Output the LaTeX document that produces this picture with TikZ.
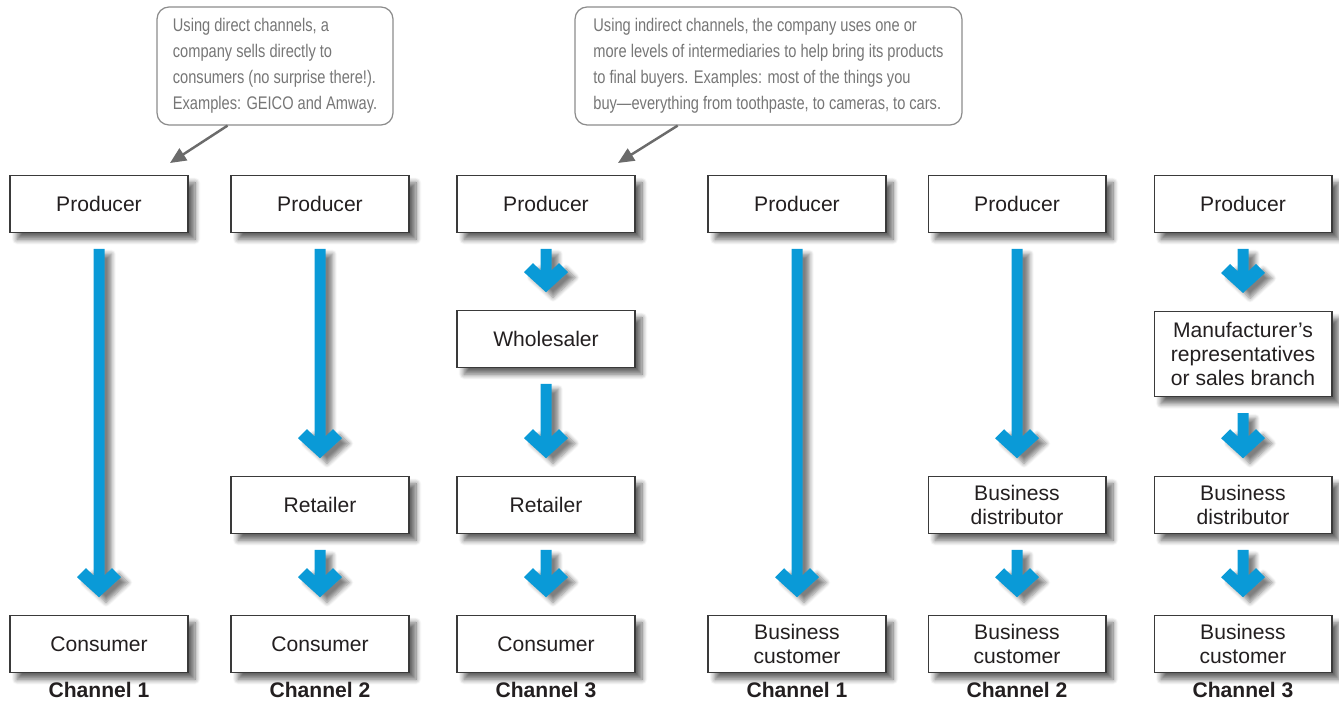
\documentclass[tikz,border=0pt]{standalone}
\usepackage{fontspec}
\setmainfont{Liberation Sans}
\newfontfamily\notefont[FakeStretch=0.80, Ligatures=TeX]{Liberation Sans}
\usepackage{tikz}
\usetikzlibrary{arrows.meta, positioning, calc, shadows, shadows.blur}
\definecolor{flowBlue}{HTML}{0A9AD7}
\definecolor{boxLine}{HTML}{3A3A3A}
\definecolor{boxText}{HTML}{231F20}
\definecolor{noteLine}{HTML}{8C8C8C}
\definecolor{noteText}{HTML}{767676}
\definecolor{pointerGray}{HTML}{6B6B6B}

% blue chevron arrow from one box to the next
\newcommand{\flowarrow}[2]{%
  \fill[flow] let \p1=(#1.south), \p2=(#2.north) in
    (\x1-0.11cm,\y1-0.32cm) -- (\x1-0.11cm,\y2+0.80cm) -- (\x1-0.26cm,\y2+0.94cm)
    -- (\x1-0.44cm,\y2+0.76cm) -- (\x1,\y2+0.36cm) -- (\x1+0.44cm,\y2+0.76cm)
    -- (\x1+0.26cm,\y2+0.94cm) -- (\x1+0.11cm,\y2+0.80cm) -- (\x1+0.11cm,\y1-0.32cm) -- cycle;}

\begin{document}
\begin{tikzpicture}[x=0.02cm, y=-0.02cm,
  stage/.style={draw=boxLine, fill=white, line width=0.6pt, minimum width=3.56cm, minimum height=1.13cm, align=center, text=boxText, font=\fontsize{12}{13.7}\selectfont, blur shadow={shadow xshift=4pt, shadow yshift=-4pt, shadow blur steps=8, shadow blur radius=3pt, shadow opacity=60}},
  flow/.style={fill=flowBlue, blur shadow={shadow xshift=4pt, shadow yshift=-3pt, shadow blur steps=6, shadow blur radius=2.5pt, shadow opacity=50}},
  chan/.style={font=\fontsize{12}{14}\selectfont\bfseries, text=boxText, inner sep=0pt},
  note/.style={draw=noteLine, fill=white, line width=0.7pt, rounded corners=0.24cm, minimum height=2.36cm, align=left, text=noteText, font=\notefont\fontsize{10.4}{14.8}\selectfont},
  pointer/.style={draw=pointerGray, line width=1.4pt, -{Triangle[length=0.32cm, width=0.28cm]}},
]
  \useasboundingbox (0,0) rectangle (1339,702);

  % Callouts
  \node[note, minimum width=4.72cm] (noteDirect) at (275,66)
    {Using direct channels, a\\company sells directly to\\consumers (no surprise there!).\\Examples: GEICO and Amway.};
  \node[note, minimum width=7.74cm] (noteIndirect) at (768.5,66)
    {Using indirect channels, the company uses one or\\more levels of intermediaries to help bring its products\\to final buyers. Examples: most of the things you\\buy—everything from toothpaste, to cameras, to cars.};
  \coordinate (tipDirect) at (170,163);
  \coordinate (tipIndirect) at (618,163);

  % Row 1
  \node[stage] (prodA) at (99,204)   {Producer};
  \node[stage] (prodB) at (320,204)  {Producer};
  \node[stage] (prodC) at (546,204)  {Producer};
  \node[stage] (prodD) at (797,204)  {Producer};
  \node[stage] (prodE) at (1017,204) {Producer};
  \node[stage] (prodF) at (1243,204) {Producer};

  % Row 2
  \node[stage] (whole) at (546,339) {Wholesaler};
  \node[stage, minimum height=1.7cm] (rep) at (1243,354) {Manufacturer’s\\representatives\\or sales branch};

  % Row 3
  \node[stage] (retB) at (320,505)  {Retailer};
  \node[stage] (retC) at (546,505)  {Retailer};
  \node[stage] (distE) at (1017,505) {Business\\distributor};
  \node[stage] (distF) at (1243,505) {Business\\distributor};

  % Row 4
  \node[stage] (consA) at (99,644)   {Consumer};
  \node[stage] (consB) at (320,644)  {Consumer};
  \node[stage] (consC) at (546,644)  {Consumer};
  \node[stage] (custD) at (797,644)  {Business\\customer};
  \node[stage] (custE) at (1017,644) {Business\\customer};
  \node[stage] (custF) at (1243,644) {Business\\customer};

  % Channel labels
  \node[chan] (chanA) at (99,690)   {Channel 1};
  \node[chan] (chanB) at (320,690)  {Channel 2};
  \node[chan] (chanC) at (546,690)  {Channel 3};
  \node[chan] (chanD) at (797,690)  {Channel 1};
  \node[chan] (chanE) at (1017,690) {Channel 2};
  \node[chan] (chanF) at (1243,690) {Channel 3};

  % Flows
  \flowarrow{prodA}{consA}
  \flowarrow{prodB}{retB}
  \flowarrow{retB}{consB}
  \flowarrow{prodC}{whole}
  \flowarrow{whole}{retC}
  \flowarrow{retC}{consC}
  \flowarrow{prodD}{custD}
  \flowarrow{prodE}{distE}
  \flowarrow{distE}{custE}
  \flowarrow{prodF}{rep}
  \flowarrow{rep}{distF}
  \flowarrow{distF}{custF}

  \draw[pointer] ($(noteDirect.south west)!0.30!(noteDirect.south east)$) -- (tipDirect);
  \draw[pointer] ($(noteIndirect.south west)!0.266!(noteIndirect.south east)$) -- (tipIndirect);
\end{tikzpicture}
\end{document}
